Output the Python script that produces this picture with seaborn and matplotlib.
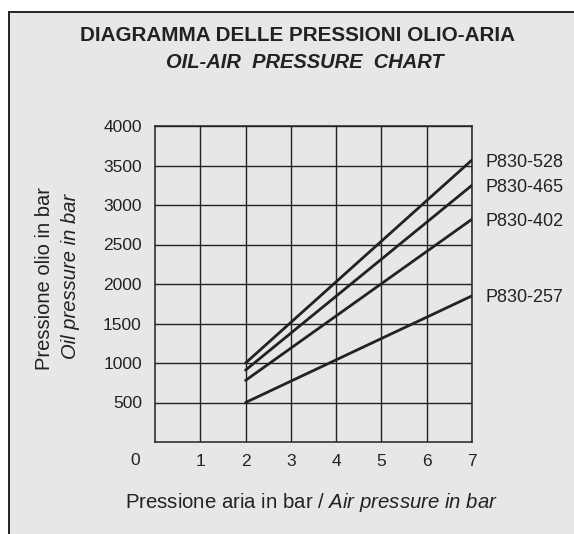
import matplotlib
matplotlib.use("Agg")
import matplotlib.pyplot as plt
from matplotlib.patches import Rectangle
import seaborn as sns
import pandas as pd

# values (oil pressure in bar at 2 and 7 bar of air)
models = ["P830-528", "P830-465", "P830-402", "P830-257"]
air_bar = [2, 7]
oil_528 = [1000, 3570]
oil_465 = [910, 3250]
oil_402 = [780, 2820]
oil_257 = [500, 1850]
x_ticks = [1, 2, 3, 4, 5, 6, 7]
y_ticks = [500, 1000, 1500, 2000, 2500, 3000, 3500, 4000]

rows = []
for model, vals in zip(models, [oil_528, oil_465, oil_402, oil_257]):
    for a, o in zip(air_bar, vals):
        rows.append({"model": model, "air": a, "oil": o})
df = pd.DataFrame(rows)

sns.set_theme(style="white")
plt.rcParams['font.family'] = ['Liberation Sans', 'DejaVu Sans']
plt.rcParams['mathtext.fontset'] = 'custom'
plt.rcParams['mathtext.rm'] = 'Liberation Sans'
plt.rcParams['mathtext.it'] = 'Liberation Sans:italic'

ink = "#222222"
bg = "#e6e7e9"

fig = plt.figure(figsize=(5.74, 5.34), dpi=100, facecolor="white")
fig.add_artist(Rectangle((9 / 574, -0.1), 1.2, (534 - 12) / 534 + 0.1,
                         transform=fig.transFigure, facecolor=bg,
                         edgecolor=ink, lw=1.4, zorder=-1))

ax = fig.add_axes([155 / 574, 92 / 534, 317 / 574, 316 / 534])
ax.set_facecolor("none")

sns.lineplot(data=df, x="air", y="oil", hue="model", palette=[ink] * 4,
             legend=False, linewidth=2.0, ax=ax)

ax.set_xlim(0, 7)
ax.set_ylim(0, 4000)
ax.set_xticks(x_ticks)
ax.set_yticks(y_ticks)
ax.tick_params(length=0, labelsize=12.5, colors=ink, pad=8.5)
ax.tick_params(axis="y", pad=9.5)
ax.grid(True, color=ink, lw=1.0)
for s in ax.spines.values():
    s.set_visible(True)
    s.set_color(ink)
    s.set_linewidth(1.1)
ax.set_xlabel("")
ax.set_ylabel("")

# origin label in the corner
ax.annotate("0", xy=(0, 0), xytext=(-14, -13), textcoords="offset points",
            ha="center", va="center", fontsize=12.5, color=ink,
            annotation_clip=False)

# curve labels
for model, vals in zip(models, [oil_528, oil_465, oil_402, oil_257]):
    ax.annotate(model, xy=(air_bar[-1], vals[-1]), xytext=(9.5, -1.5),
                textcoords="offset points", ha="left", va="center",
                fontsize=13, color=ink, annotation_clip=False)

fig.text(298 / 574, 1 - 36 / 534, "DIAGRAMMA DELLE PRESSIONI OLIO-ARIA",
         ha="center", va="center", fontsize=14.9, fontweight="bold", color=ink)
fig.text(305 / 574, 1 - 62.5 / 534, "OIL-AIR  PRESSURE  CHART",
         ha="center", va="center", fontsize=14.5, fontweight="bold",
         style="italic", color=ink)

fig.text(311 / 574, 1 - 502 / 534,
         r"Pressione aria in bar / $\mathit{Air\ pressure\ in\ bar}$",
         ha="center", va="center", fontsize=14.7, color=ink)
fig.text(45 / 574, 1 - 278 / 534, "Pressione olio in bar", rotation=90,
         ha="center", va="center", fontsize=14.5, color=ink)
fig.text(71 / 574, 1 - 276 / 534, "Oil pressure in bar", rotation=90,
         ha="center", va="center", fontsize=14.5, style="italic", color=ink)

fig.savefig("out.png", dpi=100)
